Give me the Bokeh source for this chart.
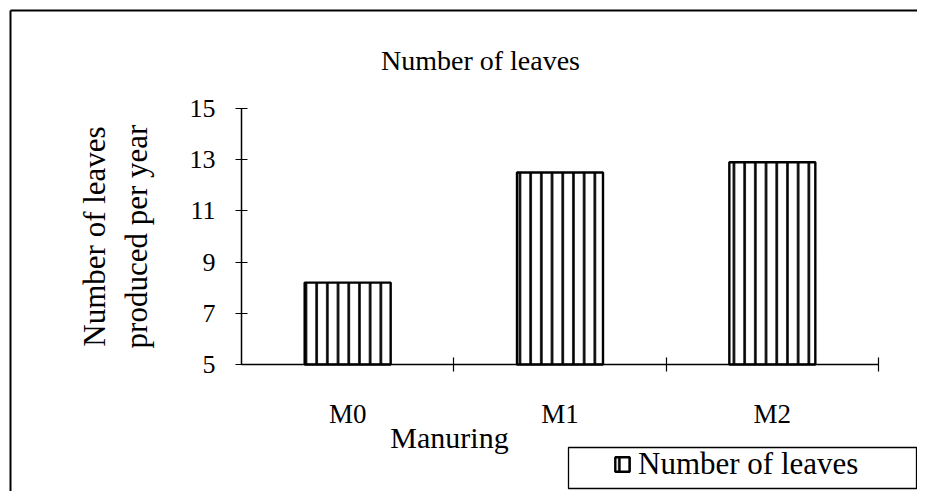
import math
from bokeh.plotting import figure
from bokeh.models import (FixedTicker, Label, Arrow, Legend, LegendItem, Range1d,
                          BoxAnnotation)
from bokeh.embed import file_html
from bokeh.resources import INLINE

# ---- data ----
categories = ["M0", "M1", "M2"]
leaves = [8.2, 12.5, 12.9]
y_ticks = [5, 7, 9, 11, 13, 15]
y_min, y_max = 5, 15
series_name = "Number of leaves"
title_text = "Number of leaves"
x_title = "Manuring"
y_title_lines = ["Number of leaves", "produced per year"]

FONT = "Liberation Serif"
FONT_Q = "'Liberation Serif', 'Times New Roman', serif"
W, H = 917, 491

x_centers = [i + 0.5 for i in range(len(categories))]
boundaries = [i + 1 for i in range(len(categories))]
n_cat = len(categories)

# pixel layout of the axes box inside the canvas
AX_L, AX_R, AX_T, AX_B = 241, 878, 108, 364
PXX = (AX_R - AX_L) / n_cat
PXY = (AX_B - AX_T) / (y_max - y_min)

def dx(px):
    return (px - AX_L) / PXX

def dy(py):
    return y_min + (AX_B - py) / PXY

p = figure(width=W, height=H, output_backend="svg", toolbar_location=None,
           x_range=Range1d(dx(0), dx(W)), y_range=Range1d(dy(H), dy(0)),
           min_border=0)
p.min_border_left = 0
p.min_border_right = 0
p.min_border_top = 0
p.min_border_bottom = 0
p.outline_line_color = None
p.xgrid.visible = False
p.ygrid.visible = False
p.background_fill_color = "white"
p.border_fill_color = "white"

r = p.vbar(x=x_centers, top=leaves, bottom=y_min, width=0.405,
           fill_color="white", line_color="black", line_width=2.4,
           hatch_pattern="|", hatch_scale=10.7, hatch_weight=2.6,
           hatch_color="black")

# y axis
ya = p.yaxis[0]
ya.fixed_location = 0
ya.bounds = (y_min, y_max)
ya.ticker = FixedTicker(ticks=y_ticks)
ya.major_tick_in = 6
ya.major_tick_out = 6
ya.minor_tick_in = 0
ya.minor_tick_out = 0
ya.axis_line_width = 1.5
ya.major_tick_line_width = 1.2
ya.major_label_text_font = FONT
ya.major_label_text_font_size = "26px"
ya.major_label_text_color = "black"
ya.major_label_standoff = 20
ya.axis_line_color = "black"
ya.axis_label = "\n".join(y_title_lines)
ya.axis_label_text_font = FONT
ya.axis_label_text_font_style = "normal"
ya.axis_label_text_font_size = "31px"
ya.axis_label_text_color = "black"
ya.axis_label_text_line_height = 1.18
ya.axis_label_standoff = 33

# x axis
xa = p.xaxis[0]
xa.fixed_location = y_min
xa.bounds = (0, n_cat)
xa.ticker = FixedTicker(ticks=x_centers, minor_ticks=boundaries)
xa.major_label_overrides = {c: lab for c, lab in zip(x_centers, categories)}
xa.major_tick_in = 0
xa.major_tick_out = 0
xa.minor_tick_in = 7
xa.minor_tick_out = 7
xa.minor_tick_line_width = 1.2
xa.minor_tick_line_color = "black"
xa.axis_line_width = 1.5
xa.axis_line_color = "black"
xa.major_label_text_font = FONT
xa.major_label_text_font_size = "27px"
xa.major_label_text_color = "black"
xa.major_label_standoff = 27

p.add_layout(Label(x=dx(480), y=dy(60), text=title_text, text_font=FONT_Q,
                   text_font_size="28px", text_align="center",
                   text_baseline="middle", text_color="black"))
p.add_layout(Label(x=dx(449), y=dy(437), text=x_title, text_font=FONT_Q,
                   text_font_size="30px", text_align="center",
                   text_baseline="middle", text_color="black"))

# outer frame lines of the picture
p.add_layout(Arrow(end=None, x_start=dx(10), y_start=dy(H + 5), x_end=dx(10), y_end=dy(10),
                   line_color="black", line_width=2))
p.add_layout(Arrow(end=None, x_start=dx(10), y_start=dy(10), x_end=dx(W + 5), y_end=dy(10),
                   line_color="black", line_width=2))

# legend frame
p.add_layout(BoxAnnotation(left=dx(568), right=dx(916), top=dy(447), bottom=dy(488),
                           fill_color="white", fill_alpha=1,
                           line_color="black", line_alpha=1, line_width=1.3,
                           level="annotation"))

legend = Legend(items=[LegendItem(label=series_name, renderers=[r])],
                location=(613, 9), orientation="vertical",
                border_line_color=None,
                background_fill_alpha=0,
                label_text_font=FONT_Q, label_text_font_size="31px",
                label_text_color="black",
                glyph_width=18, glyph_height=18, label_standoff=7,
                padding=0, margin=0, label_height=31, label_width=250,
                spacing=0)
p.add_layout(legend, "center")

open("out.html", "w").write(file_html(p, INLINE))
